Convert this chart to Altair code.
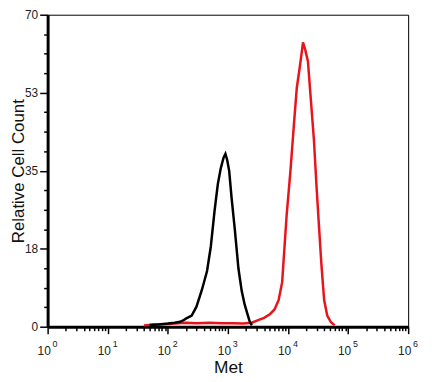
import altair as alt
import pandas as pd

# ---- data ----
black_x = [50, 70, 100, 130, 160, 180, 200, 250, 300, 370, 450, 520, 600, 680, 760, 850, 910,
           970, 1050, 1150, 1300, 1500, 1700, 1900, 2100, 2300, 2500]
black_y = [0.4, 0.5, 0.7, 0.9, 1.1, 1.4, 1.8, 2.5, 4.5, 8.3, 12.5, 18, 26, 32, 35.5, 38, 38.8,
           37.5, 35, 29, 22, 13, 8, 5, 3, 1.2, 0.3]

red_x = [40, 60, 100, 150, 200, 300, 500, 800, 1200, 1800, 2500, 3200, 4000, 5000, 6000, 7000,
         8000, 9500, 11000, 12500, 14000, 16000, 17800, 19500, 21500, 24000, 27000, 30000,
         33000, 36000, 40000, 45000, 52000, 60000]
red_y = [0.3, 0.5, 0.6, 0.8, 0.9, 0.8, 0.9, 0.8, 0.8, 0.7, 0.9, 1.5, 2.0, 2.8, 3.9, 6,
         10, 25, 35, 45, 53.5, 59, 63.8, 62, 59.5, 51, 42, 31,
         22, 14, 6, 2.5, 1.0, 0.3]

x_major = [1, 10, 100, 1000, 10000, 100000, 1000000]
x_exp = ["0", "1", "2", "3", "4", "5", "6"]
x_minor = [m * d for d in x_major[:-1] for m in range(2, 10)]

y_major = [0, 17.5, 35, 52.5, 70]
y_labels = ["0", "18", "35", "53", "70"]
y_minor = [4.375, 8.75, 13.125, 21.875, 26.25, 30.625, 39.375, 43.75, 48.125,
           56.875, 61.25, 65.625]

df = pd.concat([
    pd.DataFrame({"x": red_x, "y": red_y, "s": "red", "o": range(len(red_x))}),
    pd.DataFrame({"x": black_x, "y": black_y, "s": "black", "o": range(len(black_x))}),
])

xm = "[" + ",".join(str(v) for v in x_major) + "]"
xe = "[" + ",".join("'" + e + "'" for e in x_exp) + "]"
ym = "[" + ",".join(str(v) for v in y_major) + "]"
yl = "[" + ",".join("'" + l + "'" for l in y_labels) + "]"

FONT = "Liberation Sans"
xscale = alt.Scale(type="log", domain=[1, 1000000])
yscale = alt.Scale(domain=[0, 70], nice=False, zero=True)

# main axes
x_axis = alt.Axis(
    orient="bottom", values=x_major, labelExpr="'10'",
    tickSize=7, labelPadding=12, labelOffset=-4, labelFontSize=12,
    labelOverlap=False, labelFlush=False,
    title="Met", titleFontSize=17.5, titlePadding=2,
)
y_axis = alt.Axis(
    orient="left", values=y_major,
    labelExpr=f"{yl}[indexof({ym}, datum.value)]",
    tickSize=8, labelPadding=2, labelFontSize=12,
    labelOverlap=False, labelFlush=False,
    title="Relative Cell Count", titleFontSize=17, titlePadding=1,
    titleBaseline="alphabetic",
)

lines = alt.Chart(df).mark_line(strokeWidth=2.5, interpolate="linear").encode(
    x=alt.X("x:Q", scale=xscale, axis=x_axis),
    y=alt.Y("y:Q", scale=yscale, axis=y_axis),
    color=alt.Color("s:N", scale=alt.Scale(domain=["red", "black"], range=["#e8141b", "#000000"]),
                    legend=None),
    order="o:Q",
)

# minor ticks
minor = alt.Chart(df).mark_point(opacity=0).encode(
    x=alt.X("x:Q", scale=xscale, axis=alt.Axis(orient="bottom", values=x_minor, labels=False,
                                               tickSize=4, domain=False, title=None)),
    y=alt.Y("y:Q", scale=yscale, axis=alt.Axis(orient="left", values=y_minor, labels=False,
                                               tickSize=4, domain=False, title=None)),
)

# superscript exponents of the x labels
expo = alt.Chart(df).mark_point(opacity=0).encode(
    x=alt.X("x:Q", scale=xscale, axis=alt.Axis(
        orient="bottom", values=x_major,
        labelExpr=f"{xe}[indexof({xm}, datum.value)]",
        ticks=False, tickSize=0, domain=False, labelPadding=13, labelOffset=7,
        labelFontSize=9, labelOverlap=False, labelFlush=False, title=None)),
    y=alt.Y("y:Q", scale=yscale, axis=None),
)

chart = alt.layer(lines, minor, expo).resolve_axis(
    x="independent", y="independent"
).properties(
    width=364,
    height=315,
    autosize=alt.AutoSizeParams(type="none"),
    padding={"left": 40, "top": 5, "right": 16, "bottom": 50},
).configure_view(
    stroke="black", strokeWidth=1
).configure_axis(
    grid=False,
    domainColor="black",
    domainWidth=3,
    tickColor="black",
    tickWidth=1.5,
    labelFont=FONT,
    titleFont=FONT,
    labelColor="#222",
    titleColor="#111",
    titleFontWeight="normal",
)

chart.save("out.html", embed_options={"renderer": "svg", "actions": False})
